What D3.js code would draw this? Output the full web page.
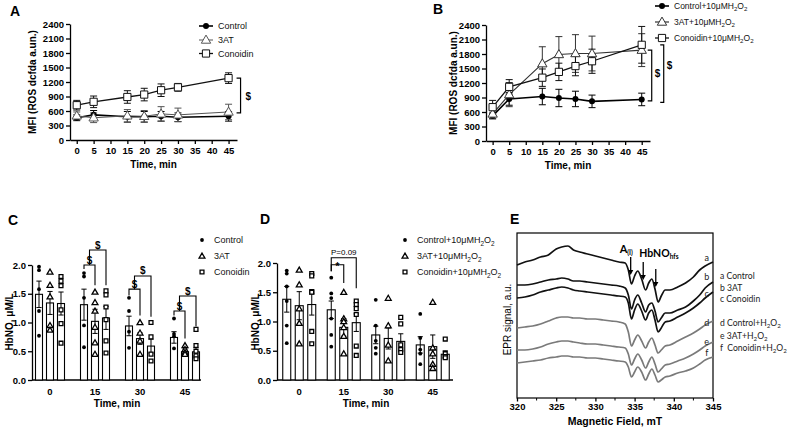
<!DOCTYPE html>
<html><head><meta charset="utf-8">
<script src="https://cdn.jsdelivr.net/npm/d3@7/dist/d3.min.js"></script>
<style>html,body{margin:0;padding:0;background:#fff}svg{display:block}</style>
</head><body>
<svg id="chart" width="789" height="430"></svg>
<script>
// ================= DATA =================
const times = [0, 5, 15, 20, 25, 30, 45];
const timeTicks = [0, 5, 10, 15, 20, 25, 30, 35, 40, 45];
const mfiTicks = [0, 300, 600, 900, 1200, 1500, 1800, 2100, 2400];

// Panel A (MFI, mean ± SEM)
const aLabels = ["Control", "3AT", "Conoidin"];
const aControl = [460, 520, 480, 480, 490, 470, 490];
const aControlErr = [60, 90, 110, 110, 100, 90, 100];
const a3AT = [500, 460, 500, 490, 540, 520, 580];
const a3ATErr = [80, 100, 130, 120, 150, 140, 160];
const aConoidin = [720, 790, 890, 940, 1030, 1090, 1280];
const aConoidinErr = [100, 120, 130, 130, 130, 80, 110];
const aSig = [1280, 560];

// Panel B
const bLabels = ["Control+10μMH2O2", "3AT+10μMH2O2", "Conoidin+10μMH2O2"];
const bControl = [520, 870, 920, 890, 870, 820, 860];
const bControlErr = [60, 130, 170, 180, 160, 130, 130];
const b3AT = [560, 960, 1600, 1790, 1810, 1810, 1880];
const b3ATErr = [100, 250, 350, 370, 390, 360, 340];
const bConoidin = [700, 1120, 1310, 1430, 1550, 1650, 1990];
const bConoidinErr = [140, 150, 180, 180, 200, 250, 380];
const bSigInner = [1880, 830];
const bSigOuter = [1990, 800];

// Panels C, D (HbNO, µM/L)
const groups = ["0", "15", "30", "45"];
const hbTicks = [0, 0.5, 1.0, 1.5, 2.0];
const cLabels = ["Control", "3AT", "Conoidin"];
const cControl = [1.49, 1.31, 0.94, 0.74];
const cControlSem = [0.23, 0.27, 0.17, 0.10];
const c3AT = [1.34, 1.02, 0.72, 0.49];
const c3ATSem = [0.20, 0.21, 0.10, 0.05];
const cConoidin = [1.33, 1.08, 0.59, 0.49];
const cConoidinSem = [0.20, 0.20, 0.12, 0.07];
const cControlPts = [[1.97, 1.91, 1.58, 1.2, 0.77], [1.86, 1.8, 1.43, 0.95, 0.57], [1.43, 1.2, 0.84, 0.56], [1.07, 0.8, 0.76, 0.55]];
const c3ATPts = [[1.88, 1.65, 1.45, 0.95, 0.87], [1.53, 1.35, 1.2, 0.92, 0.65, 0.45], [1.0, 0.82, 0.68, 0.45], [0.6, 0.53, 0.48, 0.45]];
const cConoidinPts = [[1.8, 1.72, 1.64, 1.22, 0.98, 0.64], [1.55, 1.48, 1.27, 1.05, 0.68, 0.47], [1.0, 0.75, 0.45, 0.33], [0.88, 0.6, 0.5, 0.42, 0.37]];
// nested "$" brackets: [group, innerTop, ctrlLeg, innerRightLeg, outerTop, outerRightLeg]
const cBrackets = [["15", 2.0, 1.93, 1.65, 2.26, 1.65], ["30", 1.58, 1.47, 1.12, 1.81, 1.1], ["45", 1.2, 1.12, 0.72, 1.46, 0.93]];

const dLabels = ["Control+10μMH2O2", "3AT+10μMH2O2", "Conoidin+10μMH2O2"];
const dControl = [1.38, 1.2, 0.77, 0.6];
const dControlSem = [0.22, 0.15, 0.15, 0.14];
const d3AT = [1.27, 0.9, 0.71, 0.57];
const d3ATSem = [0.24, 0.15, 0.18, 0.2];
const dConoidin = [1.29, 0.98, 0.66, 0.44];
const dConoidinSem = [0.18, 0.15, 0.13, 0.06];
const dControlPts = [[1.87, 1.82, 1.6, 1.35, 0.93, 0.63], [1.75, 1.48, 1.4, 1.05, 0.77, 0.57], [1.37, 0.93, 0.67, 0.55, 0.45], [1.13, 0.72, 0.52, 0.45, 0.27]];
const d3ATPts = [[1.88, 1.63, 1.22, 0.97, 0.62], [1.5, 1.05, 1.0, 0.9, 0.75, 0.45], [1.4, 0.93, 0.6, 0.33], [1.33, 0.55, 0.45, 0.27, 0.2]];
const dConoidinPts = [[1.82, 1.78, 1.51, 1.5, 0.83, 0.62], [1.35, 1.29, 1.22, 1.12, 0.58, 0.42], [1.07, 0.96, 0.6, 0.52, 0.47], [0.7, 0.45, 0.4, 0.38]];
// group 15: outer (P=0.09) top, inner (*) top, shared left leg, inner right leg, outer right leg
const dBracket = ["15", 2.09, 1.97, 1.86, 1.66, 1.57];

// Panel E (EPR spectra)
const eTicks = [320, 325, 330, 335, 340, 345];
const eField = [320, 321, 322, 323, 324, 325, 325.7, 326.5, 327.2, 328, 329, 330, 331, 332, 333, 333.8, 334.2, 334.6, 335.0, 335.4, 335.9, 336.4, 336.8, 337.2, 337.6, 338.0, 338.4, 338.9, 339.5, 340.5, 341.5, 342.5, 343.3, 344, 345];
const eA = [135, 138, 140, 143, 145, 151, 153, 154, 150, 148, 146, 144, 142, 140, 138, 137, 130, 116, 124, 129, 121, 110, 117, 121, 111, 98, 104, 110, 110, 113, 117, 123, 130, 134, 138];
const eB = [115, 115, 116, 118, 120, 121, 122, 121, 119, 119, 118, 117, 116, 115, 114, 112, 105, 91, 100, 105, 97, 88, 95, 97, 89, 78, 82, 87, 87, 90, 93, 99, 105, 112, 118];
const eC = [102, 103, 105, 108, 110, 112, 113, 112, 110, 109, 108, 107, 106, 105, 104, 103, 97, 81, 90, 96, 89, 80, 87, 90, 80, 68, 72, 78, 79, 83, 87, 92, 97, 102, 108];
const eD = [72, 73, 74, 76, 79, 82, 83, 83, 82, 82, 81, 81, 80, 79, 78, 76, 68, 54, 60, 65, 59, 52, 58, 62, 55, 47, 50, 54, 55, 59, 63, 67, 71, 75, 79];
const eE = [50, 50, 51, 53, 56, 58, 59, 59, 58, 57, 56, 56, 55, 54, 53, 52, 46, 35, 41, 46, 40, 32, 38, 43, 36, 28, 31, 35, 36, 39, 42, 46, 50, 54, 58];
const eF = [37, 38, 39, 40, 42, 43, 44, 44, 43, 43, 42, 42, 41, 40, 39, 38, 33, 23, 28, 33, 28, 20, 26, 31, 25, 18, 20, 23, 24, 27, 29, 32, 36, 40, 43];
const eCurveLetters = ["a", "b", "c", "d", "e", "f"];
const eLegend = ["a Control", "b 3AT", "c Conoidin", "d Control+H2O2", "e 3AT+H2O2", "f  Conoidin+H2O2"];
const eArrowFields = [334.5, 336.1, 337.7];

// ================= DRAWING =================
const SANS = '"Liberation Sans", Arial, Helvetica, sans-serif';
const svg = d3.select("#chart").attr("font-family", SANS);
svg.append("rect").attr("width", 789).attr("height", 430).attr("fill", "#fff");

function styleAxis(g, fs) {
  g.attr("font-family", SANS).attr("font-size", fs).attr("font-weight", "bold");
  g.selectAll("path.domain").attr("stroke", "#000").attr("stroke-width", 1.3);
  g.selectAll(".tick line").attr("stroke", "#000").attr("stroke-width", 1.3);
  g.selectAll(".tick text").attr("fill", "#000");
}
function addRich(sel, str, shift) {
  const parts = str.split(/(?<=[HO])(\d)/);
  let down = false;
  shift = shift || 2.5;
  parts.forEach((p, i) => {
    if (p === "") return;
    const t = sel.append("tspan").text(p);
    if (i % 2 === 1) { t.attr("font-size", "72%"); if (!down) { t.attr("dy", shift); down = true; } }
    else if (down) { t.attr("dy", -shift); down = false; }
  });
}
function letter(t, x, y) {
  svg.append("text").attr("x", x).attr("y", y).attr("font-size", 14).attr("font-weight", "bold").text(t);
}
function marker(g, type, x, y, color, big) {
  if (type === "circle") {
    g.append("circle").attr("cx", x).attr("cy", y).attr("r", big ? 3 : 1.9).attr("fill", color);
  } else {
    const sym = type === "triangle" ? d3.symbolTriangle : d3.symbolSquare;
    const size = type === "triangle" ? (big ? 38 : 15) : (big ? 52 : 15);
    g.append("path").attr("d", d3.symbol().type(sym).size(size)())
      .attr("transform", `translate(${x},${y + (type === "triangle" ? 0.5 : 0)})`)
      .attr("fill", "#fff").attr("stroke", color).attr("stroke-width", big ? 1 : 1.3);
  }
}

// ---------- line charts (A, B) ----------
function lineChart(o) {
  const g = svg.append("g");
  const x = d3.scaleLinear().domain([-2, 47.5]).range([o.x0, o.x1]);
  const y = d3.scaleLinear().domain([0, 2400]).range([o.y0, o.y1]);
  const ax = g.append("g").attr("transform", `translate(${o.x0},0)`)
    .call(d3.axisLeft(y).tickValues(mfiTicks).tickSize(4).tickSizeOuter(0).tickPadding(2).tickFormat(d3.format("d")));
  styleAxis(ax, 9.5);
  const bx = g.append("g").attr("transform", `translate(0,${o.y0})`)
    .call(d3.axisBottom(x).tickValues(timeTicks).tickSize(4).tickSizeOuter(0).tickPadding(3));
  styleAxis(bx, 9.5);
  g.append("text").attr("x", (o.x0 + o.x1) / 2).attr("y", o.y0 + 28).attr("text-anchor", "middle")
    .attr("font-size", 10).attr("font-weight", "bold").text("Time, min");
  g.append("text").attr("transform", `translate(${o.titleX},${(o.y0 + o.y1) / 2}) rotate(-90)`)
    .attr("text-anchor", "middle").attr("font-size", 10).attr("font-weight", "bold").text("MFI (ROS dcfda a.un.)");
  const line = d3.line().x((d, i) => x(times[i])).y(d => y(d));
  o.series.forEach(s => {
    g.append("path").datum(s.vals).attr("d", line).attr("fill", "none").attr("stroke", s.color).attr("stroke-width", s.lw);
  });
  o.series.forEach(s => {
    const eg = g.append("g").attr("stroke", s.color).attr("stroke-width", 1);
    times.forEach((t, i) => {
      const cx = x(t), lo = y(s.vals[i] - s.errs[i]), hi = y(s.vals[i] + s.errs[i]);
      eg.append("line").attr("x1", cx).attr("x2", cx).attr("y1", lo).attr("y2", hi);
      eg.append("line").attr("x1", cx - 3.5).attr("x2", cx + 3.5).attr("y1", lo).attr("y2", lo);
      eg.append("line").attr("x1", cx - 3.5).attr("x2", cx + 3.5).attr("y1", hi).attr("y2", hi);
    });
  });
  o.series.forEach(s => {
    times.forEach((t, i) => marker(g, s.sym, x(t), y(s.vals[i]), s.color, true));
  });
  // legend
  o.series.forEach((s, i) => {
    const ly = o.legY[i];
    g.append("line").attr("x1", o.legX).attr("x2", o.legX + 14).attr("y1", ly).attr("y2", ly).attr("stroke", s.color).attr("stroke-width", s.lw);
    marker(g, s.sym, o.legX + 7, ly, s.color, true);
    const t = g.append("text").attr("x", o.legX + 19).attr("y", ly + 3.3).attr("font-size", o.legFs).attr("fill", "#111");
    addRich(t, s.label, 2);
  });
  return { g, x, y };
}

const A = lineChart({
  x0: 70, x1: 237, y0: 140, y1: 24, titleX: 35.5, legX: 199, legY: [26, 40, 53.5], legFs: 9,
  series: [
    { label: aLabels[0], vals: aControl, errs: aControlErr, color: "#000", lw: 1.6, sym: "circle" },
    { label: aLabels[1], vals: a3AT, errs: a3ATErr, color: "#555", lw: 1, sym: "triangle" },
    { label: aLabels[2], vals: aConoidin, errs: aConoidinErr, color: "#111", lw: 1.3, sym: "square" }
  ]
});
(function () {
  const xb = A.x(45) + 12, yt = A.y(aSig[0]), yb = A.y(aSig[1]);
  A.g.append("path").attr("d", `M${xb - 4},${yt}H${xb}V${yb}H${xb - 4}`).attr("fill", "none").attr("stroke", "#000").attr("stroke-width", 1.2);
  A.g.append("text").attr("x", xb + 5).attr("y", (yt + yb) / 2 + 4).attr("font-size", 10).attr("font-weight", "bold").text("$");
})();

const B = lineChart({
  x0: 486, x1: 650, y0: 141, y1: 25, titleX: 456.5, legX: 655, legY: [6, 22, 38], legFs: 8.5,
  series: [
    { label: bLabels[0], vals: bControl, errs: bControlErr, color: "#000", lw: 1.6, sym: "circle" },
    { label: bLabels[1], vals: b3AT, errs: b3ATErr, color: "#333", lw: 1.2, sym: "triangle" },
    { label: bLabels[2], vals: bConoidin, errs: bConoidinErr, color: "#111", lw: 1.3, sym: "square" }
  ]
});
(function () {
  const xi = B.x(45) + 10, xo = B.x(45) + 22;
  [[xi, bSigInner, 4], [xo, bSigOuter, 3.5]].forEach(([xb, v, w]) => {
    const yt = B.y(v[0]), yb = B.y(v[1]);
    B.g.append("path").attr("d", `M${xb - w},${yt}H${xb}V${yb}H${xb - w}`).attr("fill", "none").attr("stroke", "#000").attr("stroke-width", 1.2);
  });
  B.g.append("text").attr("x", xi + 3).attr("y", 77).attr("font-size", 10).attr("font-weight", "bold").text("$");
  B.g.append("text").attr("x", xo + 3).attr("y", 69).attr("font-size", 10).attr("font-weight", "bold").text("$");
})();

// ---------- bar charts (C, D) ----------
function barChart(o) {
  const g = svg.append("g");
  const x0 = d3.scaleBand().domain(groups).range(o.band);
  const x1 = d3.scalePoint().domain([0, 1, 2]).range([-o.off, o.off]);
  const y = d3.scaleLinear().domain([0, 2]).range([380, o.yTop]);
  const cx = (gi, si) => x0(groups[gi]) + x0.bandwidth() / 2 + x1(si);
  const ax = g.append("g").attr("transform", `translate(${o.axisX},0)`)
    .call(d3.axisLeft(y).tickValues(hbTicks).tickSize(4).tickSizeOuter(0).tickPadding(2).tickFormat(d3.format(".1f")));
  styleAxis(ax, 9.5);
  g.append("line").attr("x1", o.axisX).attr("x2", o.xEnd).attr("y1", y(0)).attr("y2", y(0)).attr("stroke", "#000").attr("stroke-width", 1.3);
  groups.forEach(gr => {
    g.append("text").attr("x", x0(gr) + x0.bandwidth() / 2).attr("y", 395).attr("text-anchor", "middle")
      .attr("font-size", 9.5).attr("font-weight", "bold").text(gr);
  });
  g.append("text").attr("x", o.titleCx).attr("y", 407).attr("text-anchor", "middle").attr("font-size", 10).attr("font-weight", "bold").text("Time, min");
  g.append("text").attr("transform", `translate(${o.titleX},322) rotate(-90)`)
    .attr("text-anchor", "middle").attr("font-size", 10).attr("font-weight", "bold").text("HbNO, μM/L");
  o.series.forEach((s, si) => {
    s.vals.forEach((v, gi) => {
      const xc = cx(gi, si);
      g.append("rect").attr("x", xc - o.bw / 2).attr("y", y(v)).attr("width", o.bw).attr("height", y(0) - y(v))
        .attr("fill", "#fff").attr("stroke", "#000").attr("stroke-width", 1.1);
    });
  });
  o.series.forEach((s, si) => {
    s.vals.forEach((v, gi) => {
      const xc = cx(gi, si), lo = y(v - s.sem[gi]), hi = y(v + s.sem[gi]);
      g.append("line").attr("x1", xc).attr("x2", xc).attr("y1", lo).attr("y2", hi).attr("stroke", "#000").attr("stroke-width", 1);
      [lo, hi].forEach(yy => g.append("line").attr("x1", xc - 2.6).attr("x2", xc + 2.6).attr("y1", yy).attr("y2", yy).attr("stroke", "#000").attr("stroke-width", 1));
      s.pts[gi].forEach(p => marker(g, s.sym, xc, y(p), "#000", false));
    });
  });
  o.series.forEach((s, i) => {
    const ly = o.legY[i];
    marker(g, s.sym, o.legX, ly, "#000", false);
    const t = g.append("text").attr("x", o.legX + 12).attr("y", ly + 3.3).attr("font-size", 9).attr("fill", "#111");
    addRich(t, s.label, 2.2);
  });
  return { g, y, cx };
}
function bracketPath(g, xl, xr, yTop, yl, yr) {
  g.append("path").attr("d", `M${xl},${yl}V${yTop}H${xr}V${yr}`).attr("fill", "none").attr("stroke", "#000").attr("stroke-width", 1.1);
}

const C = barChart({
  band: [27.5, 207.5], off: 11, bw: 7, yTop: 265, axisX: 32, xEnd: 201, titleX: 12.5, titleCx: 117,
  legX: 202, legY: [240, 256, 272],
  series: [
    { label: cLabels[0], vals: cControl, sem: cControlSem, pts: cControlPts, sym: "circle" },
    { label: cLabels[1], vals: c3AT, sem: c3ATSem, pts: c3ATPts, sym: "triangle" },
    { label: cLabels[2], vals: cConoidin, sem: cConoidinSem, pts: cConoidinPts, sym: "square" }
  ]
});
cBrackets.forEach(b => {
  const gi = groups.indexOf(b[0]);
  const xa = C.cx(gi, 0), xb = C.cx(gi, 1), xc = C.cx(gi, 2), xm = (xa + xb) / 2;
  const yi = C.y(b[1]), yo = C.y(b[4]);
  bracketPath(C.g, xa, xb, yi, C.y(b[2]), C.y(b[3]));
  bracketPath(C.g, xm, xc, yo, yi, C.y(b[5]));
  C.g.append("text").attr("x", xm).attr("y", yi - 1.5).attr("text-anchor", "middle").attr("font-size", 10).attr("font-weight", "bold").text("$");
  C.g.append("text").attr("x", (xm + xc) / 2).attr("y", yo - 1.5).attr("text-anchor", "middle").attr("font-size", 10).attr("font-weight", "bold").text("$");
});

const D = barChart({
  band: [277, 455], off: 12.5, bw: 8, yTop: 263, axisX: 277, xEnd: 453, titleX: 259, titleCx: 366,
  legX: 405, legY: [240, 256, 272],
  series: [
    { label: dLabels[0], vals: dControl, sem: dControlSem, pts: dControlPts, sym: "circle" },
    { label: dLabels[1], vals: d3AT, sem: d3ATSem, pts: d3ATPts, sym: "triangle" },
    { label: dLabels[2], vals: dConoidin, sem: dConoidinSem, pts: dConoidinPts, sym: "square" }
  ]
});
(function () {
  const gi = groups.indexOf(dBracket[0]);
  const xa = D.cx(gi, 0), xb = D.cx(gi, 1), xc = D.cx(gi, 2);
  const yo = D.y(dBracket[1]), yi = D.y(dBracket[2]), yl = D.y(dBracket[3]);
  bracketPath(D.g, xa, xc, yo, yl, D.y(dBracket[5]));
  bracketPath(D.g, xa, xb, yi, yl, D.y(dBracket[4]));
  D.g.append("text").attr("x", (xa + xc) / 2).attr("y", yo - 2.5).attr("text-anchor", "middle").attr("font-size", 8).text("P=0.09");
  D.g.append("text").attr("x", (xa + xb) / 2).attr("y", yi + 5).attr("text-anchor", "middle").attr("font-size", 10).attr("font-weight", "bold").text("*");
})();

// ---------- EPR spectra (E) ----------
(function () {
  const g = svg.append("g");
  const x = d3.scaleLinear().domain([320, 345]).range([517, 713]);
  const y = d3.scaleLinear().domain([2, 167]).range([398, 233]);
  const [xl, xr] = x.range(), [yb, yt] = y.range();
  const bx = g.append("g").attr("transform", `translate(0,${yb})`)
    .call(d3.axisBottom(x).tickValues(eTicks).tickSize(3.5).tickSizeOuter(0).tickPadding(2).tickFormat(d3.format("d")));
  styleAxis(bx, 9.5);
  bx.selectAll("path.domain").remove();
  d3.range(322.5, 345, 5).forEach(f => g.append("line").attr("x1", x(f)).attr("x2", x(f)).attr("y1", yb).attr("y2", yb + 2.5).attr("stroke", "#000").attr("stroke-width", 1));
  g.append("rect").attr("x", xl).attr("y", yt).attr("width", xr - xl).attr("height", yb - yt)
    .attr("fill", "none").attr("stroke", "#000").attr("stroke-width", 1.2);
  g.append("text").attr("x", (xl + xr) / 2).attr("y", 425).attr("text-anchor", "middle").attr("font-size", 10.5).attr("font-weight", "bold").text("Magnetic Field, mT");
  g.append("text").attr("transform", `translate(510.5,${(yb + yt) / 2 + 4}) rotate(-90)`).attr("text-anchor", "middle").attr("font-size", 10).text("EPR signal, a.u.");
  const curves = [eA, eB, eC, eD, eE, eF];
  const line = d3.line().x((d, i) => x(eField[i])).y(d => y(d)).curve(d3.curveMonotoneX);
  curves.forEach((c, i) => {
    g.append("path").datum(c).attr("d", line).attr("fill", "none")
      .attr("stroke", i < 3 ? "#111" : "#7a7a7a").attr("stroke-width", 1.7).attr("stroke-linejoin", "round");
  });
  // curve letters near the right edge
  const letterY = [261, 280, 296.5, 325.5, 344.5, 356];
  eCurveLetters.forEach((l, i) => {
    g.append("text").attr("x", x(344.2)).attr("y", letterY[i]).attr("text-anchor", "middle")
      .attr("font-size", 9).attr("font-family", "Lato, sans-serif").attr("fill", "#222").text(l);
  });
  // arrows
  const arrowTop = [257, 262, 269];
  eArrowFields.forEach((f, i) => {
    const ax = x(f), y0 = arrowTop[i], y1 = y0 + 18;
    g.append("line").attr("x1", ax).attr("x2", ax).attr("y1", y0).attr("y2", y1 - 4).attr("stroke", "#000").attr("stroke-width", 1.3);
    g.append("path").attr("d", `M${ax - 2.6},${y1 - 5}L${ax + 2.6},${y1 - 5}L${ax},${y1}Z`).attr("fill", "#000");
  });
  const tA = g.append("text").attr("x", x(334.5) - 11).attr("y", 253).attr("font-size", 11).attr("font-weight", "bold").attr("font-family", "Lato, sans-serif");
  tA.append("tspan").text("A");
  tA.append("tspan").attr("dy", 2).attr("font-size", 6.5).text("(I)");
  const tH = g.append("text").attr("x", x(335.6)).attr("y", 257).attr("font-size", 10.5).attr("font-weight", "bold").attr("font-family", "Lato, sans-serif");
  tH.append("tspan").text("HbNO");
  tH.append("tspan").attr("dy", 2).attr("font-size", 6.5).text("hfs");
  // legend text
  const legY = [279, 290.5, 302, 326, 338.5, 351];
  eLegend.forEach((s, i) => {
    const t = g.append("text").attr("x", 720).attr("y", legY[i]).attr("font-size", 8.6).attr("font-family", "Lato, sans-serif").attr("fill", "#222").attr("xml:space", "preserve");
    addRich(t, s, 2);
  });
})();

letter("A", 10, 16);
letter("B", 433, 14);
letter("C", 8, 225);
letter("D", 260, 224);
letter("E", 510, 224);
</script>
</body></html>
